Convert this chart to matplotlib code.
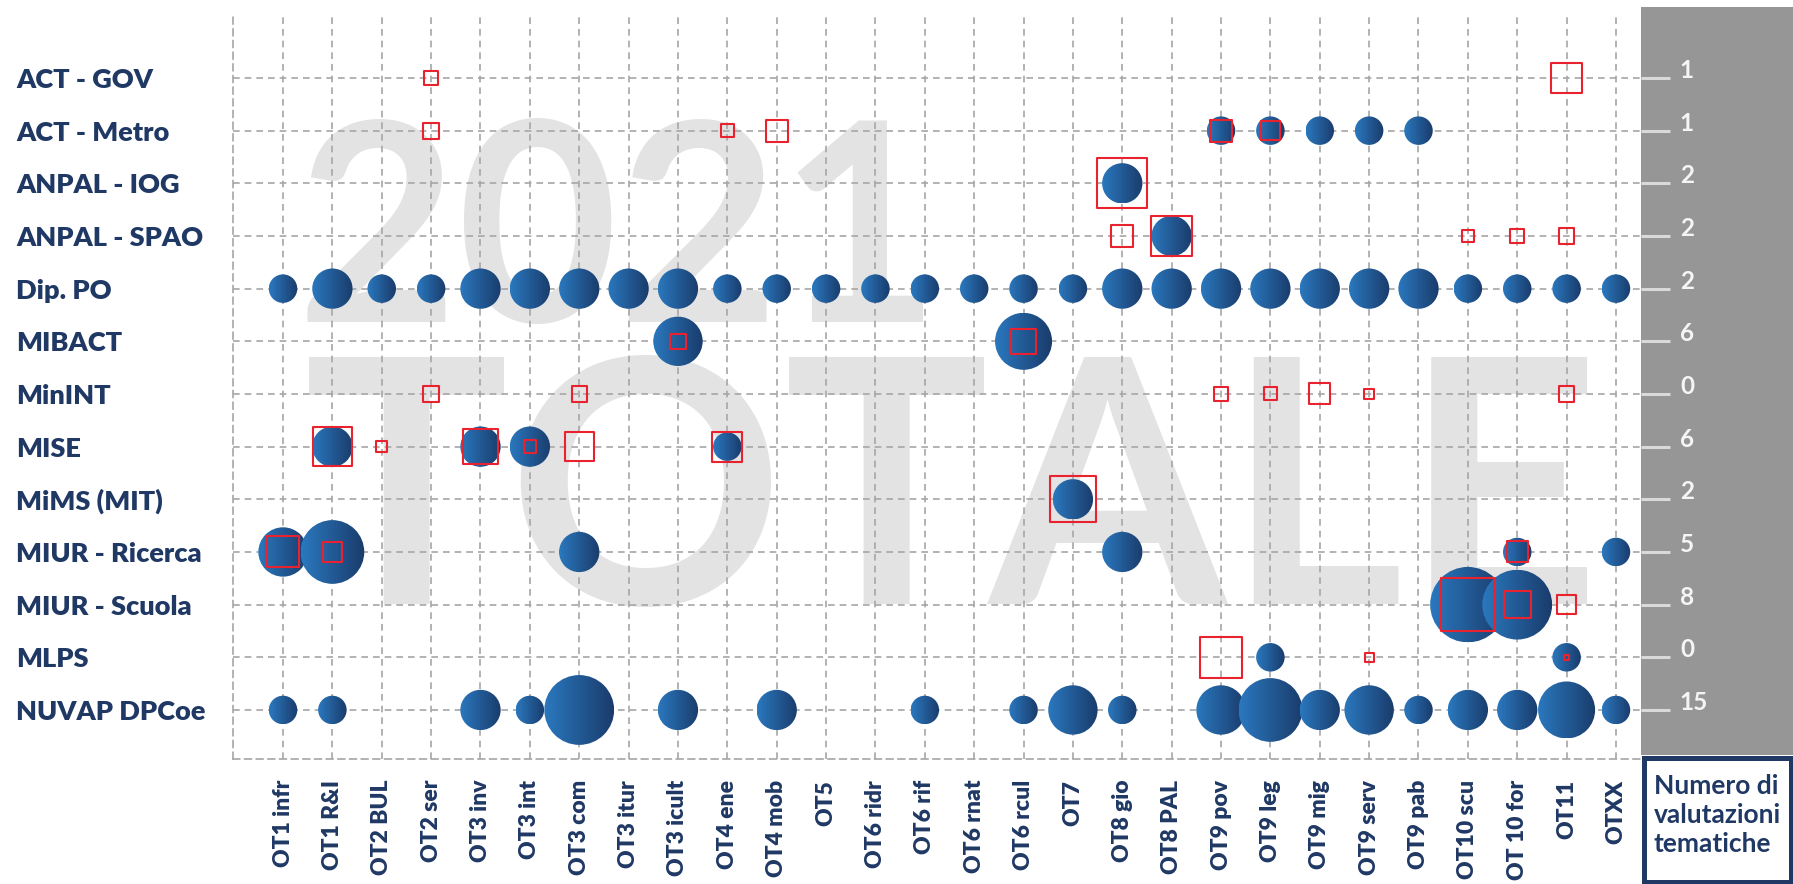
import numpy as np
import matplotlib
matplotlib.use('Agg')
import matplotlib.pyplot as plt
from matplotlib.patches import Ellipse, Rectangle
from matplotlib.colors import LinearSegmentedColormap

plt.rcParams['font.family'] = ['Lato', 'DejaVu Sans']

# --- data -------------------------------------------------------------
amministrazioni = ['ACT - GOV', 'ACT - Metro', 'ANPAL - IOG', 'ANPAL - SPAO', 'Dip. PO',
                   'MIBACT', 'MinINT', 'MISE', 'MiMS (MIT)', 'MIUR - Ricerca',
                   'MIUR - Scuola', 'MLPS', 'NUVAP DPCoe']
n_valutazioni = [1, 1, 2, 2, 2, 6, 0, 6, 2, 5, 8, 0, 15]

temi = ['OT1 infr', 'OT1 R&I', 'OT2 BUL', 'OT2 ser', 'OT3 inv', 'OT3 int', 'OT3 com',
        'OT3 itur', 'OT3 icult', 'OT4 ene', 'OT4 mob', 'OT5', 'OT6 ridr', 'OT6 rif',
        'OT6 rnat', 'OT6 rcul', 'OT7', 'OT8 gio', 'OT8 PAL', 'OT9 pov', 'OT9 leg',
        'OT9 mig', 'OT9 serv', 'OT9 pab', 'OT10 scu', 'OT 10 for', 'OT11', 'OTXX']

# blue bubbles (amministrazione, tema, valore)
dip_po = [1, 2, 1, 1, 2, 2, 2, 2, 2, 1, 1, 1, 1, 1, 1, 1, 1, 2, 2, 2, 2, 2, 2, 2, 1, 1, 1, 1]
bolle = [
    ('ACT - Metro', 'OT9 pov', 1), ('ACT - Metro', 'OT9 leg', 1), ('ACT - Metro', 'OT9 mig', 1),
    ('ACT - Metro', 'OT9 serv', 1), ('ACT - Metro', 'OT9 pab', 1),
    ('ANPAL - IOG', 'OT8 gio', 2),
    ('ANPAL - SPAO', 'OT8 PAL', 2),
    ('MIBACT', 'OT3 icult', 3), ('MIBACT', 'OT6 rcul', 4),
    ('MISE', 'OT1 R&I', 2), ('MISE', 'OT3 inv', 2), ('MISE', 'OT3 int', 2), ('MISE', 'OT4 ene', 1),
    ('MiMS (MIT)', 'OT7', 2),
    ('MIUR - Ricerca', 'OT1 infr', 3), ('MIUR - Ricerca', 'OT1 R&I', 5),
    ('MIUR - Ricerca', 'OT3 com', 2), ('MIUR - Ricerca', 'OT8 gio', 2),
    ('MIUR - Ricerca', 'OT 10 for', 1), ('MIUR - Ricerca', 'OTXX', 1),
    ('MIUR - Scuola', 'OT10 scu', 7), ('MIUR - Scuola', 'OT 10 for', 6),
    ('MLPS', 'OT9 leg', 1), ('MLPS', 'OT11', 1),
    ('NUVAP DPCoe', 'OT1 infr', 1), ('NUVAP DPCoe', 'OT1 R&I', 1), ('NUVAP DPCoe', 'OT3 inv', 2),
    ('NUVAP DPCoe', 'OT3 int', 1), ('NUVAP DPCoe', 'OT3 com', 6), ('NUVAP DPCoe', 'OT3 icult', 2),
    ('NUVAP DPCoe', 'OT4 mob', 2), ('NUVAP DPCoe', 'OT6 rif', 1), ('NUVAP DPCoe', 'OT6 rcul', 1),
    ('NUVAP DPCoe', 'OT7', 3), ('NUVAP DPCoe', 'OT8 gio', 1), ('NUVAP DPCoe', 'OT9 pov', 3),
    ('NUVAP DPCoe', 'OT9 leg', 5), ('NUVAP DPCoe', 'OT9 mig', 2), ('NUVAP DPCoe', 'OT9 serv', 3),
    ('NUVAP DPCoe', 'OT9 pab', 1), ('NUVAP DPCoe', 'OT10 scu', 2), ('NUVAP DPCoe', 'OT 10 for', 2),
    ('NUVAP DPCoe', 'OT11', 4), ('NUVAP DPCoe', 'OTXX', 1),
]
bolle += [('Dip. PO', t, v) for t, v in zip(temi, dip_po)]

# red squares (amministrazione, tema, valore)
quadrati = [
    ('ACT - GOV', 'OT2 ser', 1.2), ('ACT - GOV', 'OT11', 5.5),
    ('ACT - Metro', 'OT2 ser', 1.5), ('ACT - Metro', 'OT4 ene', 1.0), ('ACT - Metro', 'OT4 mob', 2.8),
    ('ACT - Metro', 'OT9 pov', 2.8), ('ACT - Metro', 'OT9 leg', 2.0),
    ('ANPAL - IOG', 'OT8 gio', 15),
    ('ANPAL - SPAO', 'OT8 gio', 2.8), ('ANPAL - SPAO', 'OT8 PAL', 9.8), ('ANPAL - SPAO', 'OT10 scu', 0.9),
    ('ANPAL - SPAO', 'OT 10 for', 1.2), ('ANPAL - SPAO', 'OT11', 1.4),
    ('MIBACT', 'OT3 icult', 1.4), ('MIBACT', 'OT6 rcul', 3.8),
    ('MinINT', 'OT2 ser', 1.4), ('MinINT', 'OT3 com', 1.4), ('MinINT', 'OT9 pov', 1.2),
    ('MinINT', 'OT9 leg', 1.0), ('MinINT', 'OT9 mig', 2.6), ('MinINT', 'OT9 serv', 0.6),
    ('MinINT', 'OT11', 1.4),
    ('MISE', 'OT1 R&I', 9.0), ('MISE', 'OT2 BUL', 0.7), ('MISE', 'OT3 inv', 7.2),
    ('MISE', 'OT3 int', 0.9), ('MISE', 'OT3 com', 5.0), ('MISE', 'OT4 ene', 5.3),
    ('MiMS (MIT)', 'OT7', 12.5),
    ('MIUR - Ricerca', 'OT1 infr', 5.7), ('MIUR - Ricerca', 'OT1 R&I', 2.2),
    ('MIUR - Ricerca', 'OT 10 for', 2.6),
    ('MIUR - Scuola', 'OT10 scu', 17), ('MIUR - Scuola', 'OT 10 for', 4.3), ('MIUR - Scuola', 'OT11', 2.2),
    ('MLPS', 'OT9 pov', 10), ('MLPS', 'OT9 serv', 0.5), ('MLPS', 'OT11', 0.15),
]

# --- figure -------------------------------------------------------------
W, H = 1793, 884
NAVY = '#1F3864'
fig = plt.figure(figsize=(W / 100, H / 100), dpi=100)
ax = fig.add_axes([233 / W, 1 - 759 / H, 1408 / W, 746 / H])
xlim = (-1.013, 27.507)
ylim = (12.931, -1.234)
ax.set_xlim(*xlim)
ax.set_ylim(*ylim)

# watermark
ax.text(619 / W, 1 - 322 / H, '2021', transform=fig.transFigure, ha='center', va='baseline',
        fontsize=200, fontweight='bold', color='#E3E3E3', zorder=0.2)
ax.text(952 / W, 1 - 604 / H, 'TOTALE', transform=fig.transFigure, ha='center', va='baseline',
        fontsize=246, fontweight='bold', color='#E3E3E3', zorder=0.2)

# grid
ax.set_axisbelow(True)
ax.set_xticks(range(len(temi)))
ax.set_yticks(range(len(amministrazioni)))
ax.grid(True, color='#A6A6A6', linestyle=(0, (4, 3)), linewidth=1.2)
for s in ['top', 'right']:
    ax.spines[s].set_visible(False)
for s in ['left', 'bottom']:
    ax.spines[s].set_color('#A6A6A6')
    ax.spines[s].set_linestyle((0, (4, 3)))
    ax.spines[s].set_linewidth(1.2)
ax.set_xticklabels(temi, rotation=90, ha='center', va='top', fontsize=16.5,
                   fontweight='heavy', color=NAVY)
ax.set_yticklabels(amministrazioni, ha='left', fontsize=19.5, fontweight='heavy', color=NAVY)
ax.tick_params(axis='x', length=0, pad=15)
ax.tick_params(axis='y', length=0, pad=156)

# bubbles with a left-to-right gradient
p0 = ax.transData.transform((0, 0))
p1 = ax.transData.transform((1, 1))
px_x, px_y = abs(p1[0] - p0[0]), abs(p1[1] - p0[1])
blu = LinearSegmentedColormap.from_list('blu', ['#2A78BE', '#1A3C6C'])
grad = np.linspace(0, 1, 64).reshape(1, -1)
ordine = sorted(bolle, key=lambda b: (temi.index(b[1]), amministrazioni.index(b[0])))
for ag, tema, val in ordine:
    x = temi.index(tema)
    y = amministrazioni.index(ag)
    d = 28.5 * np.sqrt(val)
    rx, ry = d / 2 / px_x, d / 2 / px_y
    circ = Ellipse((x, y), 2 * rx, 2 * ry, transform=ax.transData)
    im = ax.imshow(grad, cmap=blu, extent=[x - rx, x + rx, y + ry, y - ry],
                   aspect='auto', interpolation='bilinear', zorder=3)
    im.set_clip_path(circ)

# red squares
qx = [temi.index(q[1]) for q in quadrati]
qy = [amministrazioni.index(q[0]) for q in quadrati]
qs = [(13 * np.sqrt(q[2]) * 0.72) ** 2 for q in quadrati]
ax.scatter(qx, qy, s=qs, marker='s', facecolors='none', edgecolors='#E8222E',
           linewidths=1.5, zorder=5)

ax.set_xlim(*xlim)
ax.set_ylim(*ylim)

# grey panel with number of evaluations
fig.add_artist(Rectangle((1641 / W, 1 - 755 / H), (W - 1641) / W, (755 - 7) / H,
                         transform=fig.transFigure, facecolor='#969696', edgecolor='none', zorder=1))
ax2 = ax.twinx()
ax2.set_zorder(2)
ax2.set_ylim(*ylim)
ax2.set_yticks(range(len(amministrazioni)))
ax2.set_yticklabels([str(n) for n in n_valutazioni], fontsize=17.5, fontweight='bold', color='#F5F5F5')
for lab in ax2.get_yticklabels():
    lab.set_va('baseline')
ax2.tick_params(axis='y', length=21, width=2.2, color='#D9D9D9', pad=7, direction='out')
for s in ax2.spines.values():
    s.set_visible(False)

# legend box
fig.add_artist(Rectangle((1643.5 / W, 2.5 / H), 147 / W, 124 / H, transform=fig.transFigure,
                         facecolor='white', edgecolor=NAVY, linewidth=3.6, zorder=3))
fig.text(1654 / W, 1 - 774 / H, 'Numero di\nvalutazioni\ntematiche', ha='left', va='top',
         fontsize=19, fontweight='bold', color=NAVY, linespacing=1.25, zorder=4)

fig.savefig('out.png', dpi=100)
